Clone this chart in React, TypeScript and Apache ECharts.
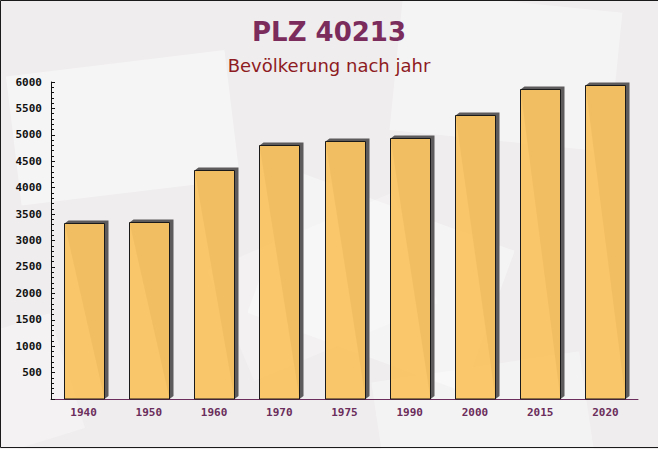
import React, { useEffect, useRef } from "react";
import * as echarts from "echarts";

const categories = ["1940", "1950", "1960", "1970", "1975", "1990", "2000", "2015", "2020"];
const population = [3322, 3353, 4325, 4816, 4892, 4949, 5371, 5862, 5951];
const titleText = "PLZ 40213";
const subtitleText = "Bevölkerung nach jahr";

export default function App() {
  const ref = useRef<HTMLDivElement>(null);
  useEffect(() => {
    if (!ref.current) return;
    const chart = echarts.init(ref.current, undefined, { renderer: "svg" });
    const mono = "'DejaVu Sans Mono', monospace";
    const deco = (x: number, y: number, w: number, h: number, r: number, o: number) => ({
      type: "rect",
      x, y, rotation: r, originX: x + w / 2, originY: y + h / 2,
      shape: { x: 0, y: 0, width: w, height: h },
      style: { fill: `rgba(255,255,255,${o})` },
      z: -10,
      silent: true,
    });
    chart.setOption({
      animation: false,
      backgroundColor: "#efedee",
      title: [
        {
          text: titleText,
          left: "center",
          top: 14,
          textStyle: { fontFamily: "'DejaVu Sans', sans-serif", fontWeight: "bold", fontSize: 26, color: "#7b2c5c" },
        },
        {
          text: subtitleText,
          left: "center",
          top: 51,
          textStyle: { fontFamily: "'DejaVu Sans', sans-serif", fontWeight: "normal", fontSize: 18, color: "#8e1b22" },
        },
      ],
      graphic: [
        deco(20, 60, 220, 130, 0.12, 0.45),
        deco(390, 40, 220, 140, -0.1, 0.4),
        deco(170, 250, 230, 150, -0.35, 0.4),
        deco(420, 300, 210, 130, 0.15, 0.35),
        deco(-20, 330, 190, 120, 0.3, 0.3),
        deco(250, 120, 200, 120, 0.4, 0.25),
        {
          type: "rect",
          shape: { x: 0.5, y: 0.5, width: 680, height: 447 },
          style: { fill: "none", stroke: "#1a1a1a", lineWidth: 1 },
          z: 100,
          silent: true,
        },
      ],
      grid: { left: 51, right: 20, top: 82, bottom: 50 },
      xAxis: {
        type: "category",
        data: categories,
        boundaryGap: true,
        axisLine: { lineStyle: { color: "#6b2d5b", width: 1 } },
        axisTick: { inside: true, length: 5, alignWithLabel: false, lineStyle: { color: "#6b2d5b" } },
        axisLabel: { interval: 0, margin: 8, color: "#6b2d5b", fontFamily: mono, fontWeight: "bold", fontSize: 11 },
        splitLine: { show: false },
      },
      yAxis: {
        type: "value",
        min: 0,
        max: 6000,
        interval: 500,
        axisLine: { show: true, lineStyle: { color: "#111", width: 1 } },
        axisTick: { show: true, inside: true, length: 4, lineStyle: { color: "#111" } },
        minorTick: { show: true, splitNumber: 5, length: 3, lineStyle: { color: "#111" } },
        axisLabel: {
          margin: 9,
          color: "#111",
          fontFamily: mono,
          fontWeight: "bold",
          fontSize: 11,
          formatter: (v: number) => (v === 0 ? "" : String(v)),
        },
        splitLine: { show: false },
      },
      series: [
        {
          type: "custom",
          data: categories.map((c, i) => [i, population[i]]),
          encode: { x: 0, y: 1 },
          renderItem: (params: any, api: any) => {
            const idx = api.value(0);
            const val = api.value(1);
            const top = api.coord([idx, val]);
            const base = api.coord([idx, 0]);
            const band = api.size([1, 0])[0];
            const w = band * 0.613;
            const x0 = Math.round(top[0] - w / 2) + 0.5;
            const x1 = x0 + Math.round(w);
            const yt = Math.round(top[1]) + 0.5;
            const yb = base[1];
            const dx = 4;
            const dy = 3;
            return {
              type: "group",
              children: [
                {
                  type: "polygon",
                  shape: {
                    points: [
                      [x0, yt],
                      [x0 + dx, yt - dy],
                      [x1 + dx, yt - dy],
                      [x1 + dx, yb - dy],
                      [x1, yb],
                    ],
                  },
                  style: { fill: "#5e5b5c" },
                },
                {
                  type: "rect",
                  shape: { x: x0, y: yt, width: x1 - x0, height: yb - yt },
                  style: { fill: "rgba(250,196,98,0.95)", stroke: "#1a1a1a", lineWidth: 1 },
                },
              ],
            };
          },
        },
      ],
    });
    return () => chart.dispose();
  }, []);
  return (
    <div
      ref={ref}
      style={{ position: "fixed", left: 0, top: 0, width: 658, height: 449 }}
    />
  );
}
